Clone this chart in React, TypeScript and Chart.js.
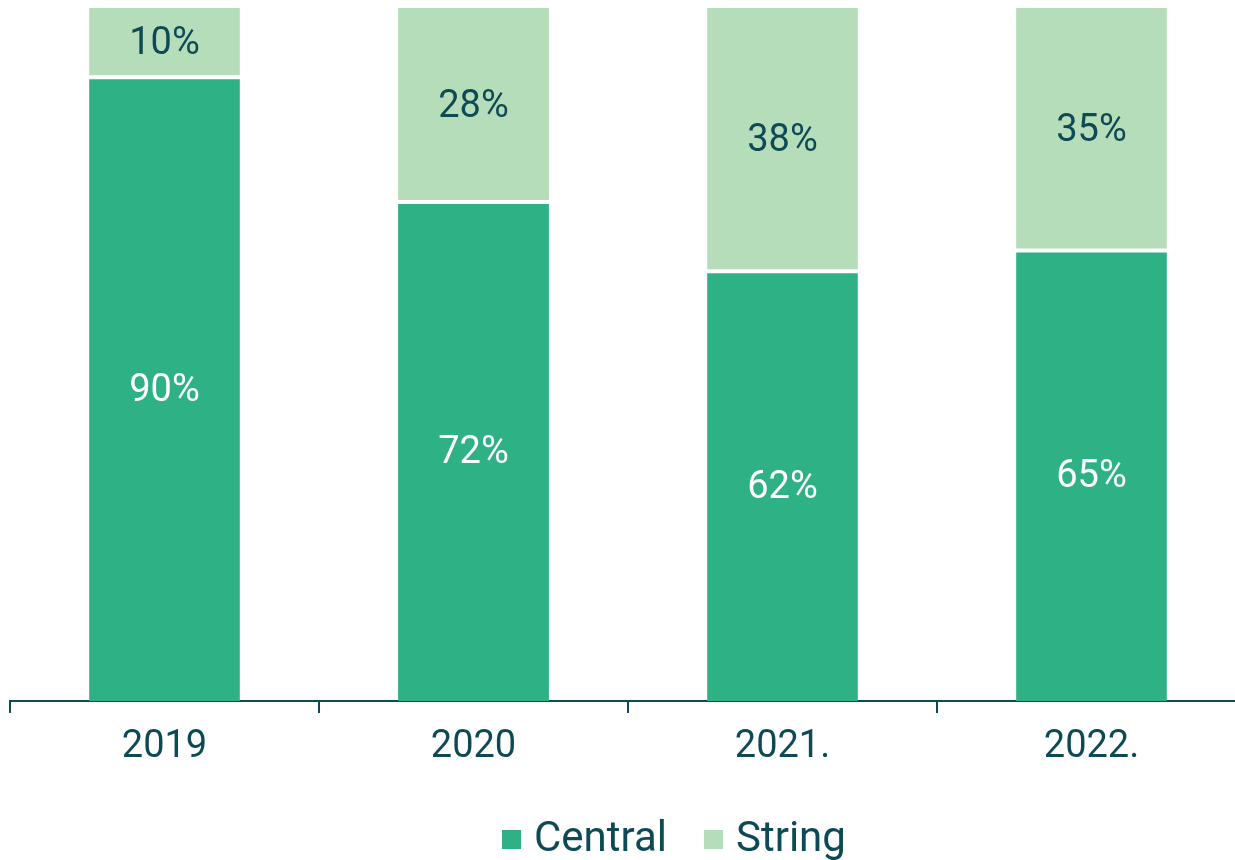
import React, { useEffect, useRef } from "react";
import { Chart, registerables } from "chart.js";

Chart.register(...registerables);

const categories = ["2019", "2020", "2021.", "2022."];
const centralValues = [90, 72, 62, 65];
const stringValues = [10, 28, 38, 35];
const seriesLabels = ["Central", "String"];
const seriesColors = ["#2db185", "#b6ddb9"];
const valueLabelColors = ["#ffffff", "#0e4a56"];

const DARK = "#0e4a56";
const FONT = "Roboto, 'Noto Sans', sans-serif";

const valueLabelPlugin = {
  id: "valueLabels",
  afterDatasetsDraw(chart: any) {
    const ctx = chart.ctx;
    ctx.save();
    ctx.font = `400 38px ${FONT}`;
    ctx.textAlign = "center";
    ctx.textBaseline = "middle";
    chart.data.datasets.forEach((ds: any, di: number) => {
      const meta = chart.getDatasetMeta(di);
      meta.data.forEach((el: any, i: number) => {
        const { x, y, base } = el.getProps(["x", "y", "base"], true);
        ctx.fillStyle = valueLabelColors[di];
        ctx.fillText(`${ds.data[i]}%`, x, (y + base) / 2 + 2);
      });
    });
    ctx.restore();
  },
};

export default function App() {
  const canvasRef = useRef<HTMLCanvasElement | null>(null);

  useEffect(() => {
    if (!canvasRef.current) return;
    const chart = new Chart(canvasRef.current, {
      type: "bar",
      data: {
        labels: categories,
        datasets: [
          {
            label: seriesLabels[0],
            data: centralValues,
            backgroundColor: seriesColors[0],
            borderColor: "#ffffff",
            borderWidth: { top: 2, bottom: 0, left: 0, right: 0 },
            borderSkipped: false,
            barPercentage: 0.488,
            categoryPercentage: 1,
          },
          {
            label: seriesLabels[1],
            data: stringValues,
            backgroundColor: seriesColors[1],
            borderColor: "#ffffff",
            borderWidth: { top: 0, bottom: 2, left: 0, right: 0 },
            borderSkipped: false,
            barPercentage: 0.488,
            categoryPercentage: 1,
          },
        ],
      },
      options: {
        animation: false,
        responsive: true,
        maintainAspectRatio: false,
        layout: { padding: { left: 2, right: 0, top: 0, bottom: 0 } },
        plugins: {
          legend: { display: false },
          tooltip: { enabled: false },
        },
        scales: {
          x: {
            stacked: true,
            offset: true,
            afterFit: (scale: any) => {
              scale.height = 159;
            },
            grid: {
              display: true,
              drawOnChartArea: false,
              drawTicks: true,
              tickLength: 12,
              color: DARK,
              lineWidth: 2,
              offset: true,
            },
            border: { display: true, color: DARK, width: 2 },
            ticks: {
              color: DARK,
              font: { family: FONT, size: 38 },
              padding: 12,
              maxRotation: 0,
              autoSkip: false,
            },
          },
          y: {
            stacked: true,
            display: false,
            min: 0,
            max: 100,
          },
        },
      },
      plugins: [valueLabelPlugin],
    });
    return () => chart.destroy();
  }, []);

  return (
    <div
      style={{
        position: "fixed",
        left: 0,
        top: 0,
        width: 1235,
        height: 860,
        overflow: "hidden",
        background: "#ffffff",
      }}
    >
      <div style={{ position: "absolute", left: 8, top: 8, width: 1238, height: 852 }}>
        <canvas ref={canvasRef} />
      </div>
      {seriesLabels.map((name, i) => (
        <div
          key={name}
          style={{
            position: "absolute",
            left: i === 0 ? 502 : 704,
            top: 817,
            height: 40,
            display: "flex",
            alignItems: "center",
            fontFamily: FONT,
            fontSize: 42,
            lineHeight: "40px",
            color: DARK,
            whiteSpace: "nowrap",
          }}
        >
          <span
            style={{
              display: "inline-block",
              width: 19,
              height: 19,
              background: seriesColors[i],
              marginRight: 13,
              position: "relative",
              top: 2,
            }}
          />
          <span>{name}</span>
        </div>
      ))}
    </div>
  );
}
